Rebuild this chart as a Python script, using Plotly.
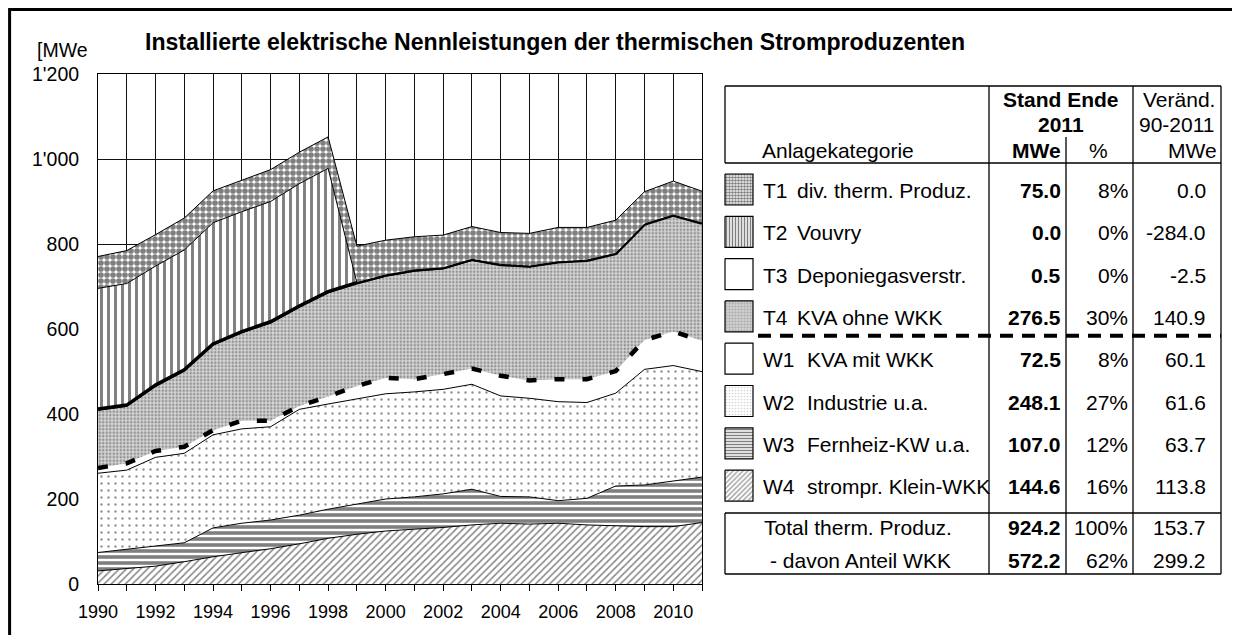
import plotly.graph_objects as go

# ---------------- data (MWe) ----------------
years = list(range(1990, 2012))
w4_klein_wkk = [30.8, 37.0, 42.0, 52.5, 64.0, 73.7, 83.0, 94.5, 107.5, 117.0, 124.7,
                129.0, 133.0, 139.0, 143.0, 141.0, 143.0, 139.0, 136.5, 135.0, 135.0, 144.6]
w3_fernheiz = [43.3, 44.6, 47.0, 44.5, 68.0, 69.3, 67.6, 67.5, 68.5, 70.5, 75.3,
               76.0, 79.0, 84.0, 63.0, 64.0, 53.0, 62.6, 94.1, 98.0, 108.0, 107.0]
w2_industrie = [186.5, 186.4, 209.0, 210.5, 219.0, 222.0, 219.4, 249.0, 247.5, 247.5, 247.5,
                247.0, 246.0, 247.0, 236.5, 232.0, 233.0, 225.4, 218.4, 272.0, 271.0, 248.1]
w1_kva_mit = [12.4, 16.0, 15.0, 15.5, 11.0, 19.0, 14.0, 8.0, 17.5, 31.0, 37.5,
              30.0, 36.0, 37.0, 47.5, 42.0, 53.0, 55.0, 52.0, 69.0, 80.0, 72.5]
t4_kva_ohne = [135.6, 134.0, 152.0, 178.0, 200.0, 207.0, 230.0, 232.0, 244.0, 240.0, 239.0,
               254.0, 247.5, 254.5, 260.0, 267.0, 274.5, 278.5, 276.0, 272.0, 273.5, 276.5]
t3_deponie = [3.0, 3.0, 3.0, 3.0, 3.0, 3.0, 3.0, 3.0, 3.0, 3.0, 3.0,
              3.0, 2.5, 2.5, 2.0, 2.0, 1.5, 1.5, 1.0, 1.0, 0.5, 0.5]
t2_vouvry = [284.0, 286.0, 280.0, 282.0, 285.0, 282.0, 283.0, 288.0, 290.0, 0.0, 0.0,
             0.0, 0.0, 0.0, 0.0, 0.0, 0.0, 0.0, 0.0, 0.0, 0.0, 0.0]
t1_div = [75.0, 77.5, 74.0, 75.0, 75.0, 74.0, 75.0, 74.0, 74.0, 86.0, 82.0,
          78.0, 77.0, 77.0, 75.0, 77.0, 81.0, 77.0, 78.0, 76.0, 80.0, 75.0]

y_tickvals = [0, 200, 400, 600, 800, 1000, 1200]
y_ticktext = ["0", "200", "400", "600", "800", "1'000", "1'200"]

# table contents
codes = ["T1", "T2", "T3", "T4", "W1", "W2", "W3", "W4"]
names = ["div. therm. Produz.", "Vouvry", "Deponiegasverstr.", "KVA ohne WKK",
         "KVA mit WKK", "Industrie u.a.", "Fernheiz-KW u.a.", "strompr. Klein-WKK"]
mwe_2011 = ["75.0", "0.0", "0.5", "276.5", "72.5", "248.1", "107.0", "144.6"]
pct_2011 = ["8%", "0%", "0%", "30%", "8%", "27%", "12%", "16%"]
chg_90_11 = ["0.0", "-284.0", "-2.5", "140.9", "60.1", "61.6", "63.7", "113.8"]
total_row = ["Total therm. Produz.", "924.2", "100%", "153.7"]
wkk_row = ["- davon Anteil WKK", "572.2", "62%", "299.2"]

# ---------------- styles ----------------
FONT = "Liberation Sans, Arial, sans-serif"
SW, SH = 1240, 635          # screen size
OFF = 8                     # page body margin
W, H = SW - OFF, SH - OFF   # figure size so that it fits the window
PL, PR, PT, PB = 98, 702, 74, 584  # plot box in screen pixels

pat = {
    "W4": dict(shape="/", size=5, solidity=0.32, fgcolor="#111", bgcolor="white"),
    "W3": dict(shape="-", size=6, solidity=0.6, fgcolor="black", bgcolor="white"),
    "W2": dict(shape=".", size=7, solidity=0.09, fgcolor="#222", bgcolor="white"),
    "W1": None,
    "T4": dict(shape=".", size=3.5, solidity=0.4, fgcolor="#505050", bgcolor="#d4d4d4"),
    "T3": None,
    "T2": dict(shape="|", size=7, solidity=0.42, fgcolor="black", bgcolor="white"),
    "T1": dict(shape=".", size=6, solidity=0.7, fgcolor="black", bgcolor="white"),
}
swatch_pat = {
    "W4": dict(shape="/", size=3.5, solidity=0.35, fgcolor="#222", bgcolor="white"),
    "W3": dict(shape="-", size=3, solidity=0.5, fgcolor="black", bgcolor="white"),
    "W2": dict(shape=".", size=3, solidity=0.25, fgcolor="#aaa", bgcolor="white"),
    "W1": None,
    "T4": dict(shape=".", size=3, solidity=0.5, fgcolor="#888", bgcolor="#d8d8d8"),
    "T3": None,
    "T2": dict(shape="|", size=3, solidity=0.5, fgcolor="black", bgcolor="white"),
    "T1": dict(shape=".", size=3, solidity=0.6, fgcolor="black", bgcolor="white"),
}

series = [
    ("W4", w4_klein_wkk, dict(color="black", width=1)),
    ("W3", w3_fernheiz, dict(color="black", width=1)),
    ("W2", w2_industrie, dict(color="black", width=1)),
    ("W1", w1_kva_mit, dict(color="black", width=4.5, dash="10px,18px")),
    ("T4", t4_kva_ohne, dict(color="black", width=1)),
    ("T3", t3_deponie, dict(color="black", width=3.5)),
    ("T2", t2_vouvry, dict(color="black", width=1)),
    ("T1", t1_div, dict(color="black", width=1)),
]

fig = go.Figure()
for code, vals, line in series:
    kw = {}
    if pat[code] is not None:
        kw["fillpattern"] = pat[code]
        kw["fillcolor"] = pat[code]["bgcolor"]
    else:
        kw["fillcolor"] = "white"
    fig.add_trace(go.Scatter(x=years, y=vals, stackgroup="one", mode="lines",
                             line=line, name=code, showlegend=False,
                             hoverinfo="skip", **kw))

# ---------------- table (overlay axis in screen-pixel units) ----------------
TL, TR, TT, TB = 725, 1221, 86, 574
C1, C2, C3 = 989, 1066, 1133
HB, TOT = 163, 513
row_y0, row_pitch = 189.5, 42.3
sw_h = 31

for i, code in enumerate(codes):
    yc = row_y0 + i * row_pitch
    x0, x1 = TL, TL + 28
    y0, y1 = yc - sw_h / 2, yc + sw_h / 2
    sp = swatch_pat[code]
    kw = {}
    if sp is not None:
        kw["fillpattern"] = sp
        kw["fillcolor"] = sp["bgcolor"]
    else:
        kw["fillcolor"] = "white"
    fig.add_trace(go.Scatter(x=[x0, x1, x1, x0, x0], y=[y0, y0, y1, y1, y0],
                             fill="toself", mode="lines",
                             line=dict(color="black", width=1.2),
                             xaxis="x2", yaxis="y2", showlegend=False,
                             hoverinfo="skip", **kw))

shapes = []
def hline(x0, x1, y, w=1.3, dash=None):
    ln = dict(color="black", width=w)
    if dash:
        ln["dash"] = dash
    shapes.append(dict(type="line", xref="x2", yref="y2", x0=x0, x1=x1, y0=y, y1=y, line=ln))
def vline(x, y0, y1, w=1.3):
    shapes.append(dict(type="line", xref="x2", yref="y2", x0=x, x1=x, y0=y0, y1=y1,
                       line=dict(color="black", width=w)))

hline(TL, TR, TT)
hline(TL, TR, HB)
hline(TL, TR, TOT)
hline(TL, TR, TB)
vline(TL, TT, HB)
vline(TL, TOT, TB)
vline(C1, TT, TB)
vline(C2, 137, TB)
vline(C3, TT, TB)
vline(TR, TT, TB)
hline(758, TR, 335.7, w=4, dash="13px,9px")
# outer frame
shapes.append(dict(type="rect", xref="x2", yref="y2", x0=9.6, x1=1262, y0=9.6, y1=660,
                   line=dict(color="black", width=3)))

ann = []
TS = 21
def txt(x, y, s, anchor="left", size=TS, bold=False):
    ann.append(dict(x=x, y=y, xref="x2", yref="y2", text=("<b>%s</b>" % s) if bold else s,
                    showarrow=False, xanchor=anchor, yanchor="middle",
                    font=dict(family=FONT, size=size, color="black")))

txt(1061, 99, "Stand Ende", "center", bold=True)
txt(1061, 124.3, "2011", "center", bold=True)
txt(1217, 99, "Veränd.", "right")
txt(1217, 124.3, "90-2011", "right")
txt(1219, 150, "MWe", "right")
txt(760, 150, "Anlagekategorie")
txt(1063, 150, "MWe", "right", bold=True)
txt(1098, 150, "%", "center")

for i, code in enumerate(codes):
    yc = row_y0 + i * row_pitch + 1
    txt(761, yc, code)
    txt(795 if code.startswith("T") else 805, yc, names[i])
    txt(1063, yc, mwe_2011[i], "right", bold=True)
    txt(1130, yc, pct_2011[i], "right")
    txt(1208, yc, chg_90_11[i], "right")

for yc, row, lx in ((527, total_row, 762), (560, wkk_row, 768)):
    txt(lx, yc, row[0])
    txt(1063, yc, row[1], "right", bold=True)
    txt(1130, yc, row[2], "right")
    txt(1208, yc, row[3], "right")

# title and unit
txt(143, 42, "Installierte elektrische Nennleistungen der thermischen Stromproduzenten",
    size=23.1, bold=True)
txt(35, 50, "[MWe", size=19.5)

fig.update_layout(
    width=W, height=H,
    margin=dict(l=0, r=0, t=0, b=0, pad=0, autoexpand=False),
    paper_bgcolor="white", plot_bgcolor="rgba(0,0,0,0)",
    font=dict(family=FONT, color="black"),
    shapes=shapes, annotations=ann,
    xaxis=dict(domain=[(PL - OFF) / W, (PR - OFF) / W], range=[1990, 2011], automargin=False,
               tickvals=years, ticktext=[str(y) if y % 2 == 0 else "" for y in years],
               ticks="outside", ticklen=6, tickcolor="black", tickwidth=1,
               tickfont=dict(family=FONT, size=18), ticklabelstandoff=5,
               showgrid=True, gridcolor="#111", gridwidth=1,
               showline=True, linecolor="black", linewidth=1, mirror=True,
               zeroline=False, fixedrange=True, anchor="y"),
    yaxis=dict(domain=[(SH - PB) / H, (SH - PT) / H], range=[0, 1200], automargin=False,
               tickvals=y_tickvals, ticktext=y_ticktext, ticks="",
               tickfont=dict(family=FONT, size=19.5), ticklabelstandoff=14,
               showgrid=True, gridcolor="#111", gridwidth=1,
               showline=True, linecolor="black", linewidth=1, mirror=True,
               zeroline=False, fixedrange=True, anchor="x"),
    xaxis2=dict(domain=[0, 1], range=[OFF, SW], visible=False, fixedrange=True,
                automargin=False, anchor="y2"),
    yaxis2=dict(domain=[0, 1], range=[SH, OFF], visible=False, fixedrange=True,
                automargin=False, anchor="x2"),
)

fig.write_html("out.html")
